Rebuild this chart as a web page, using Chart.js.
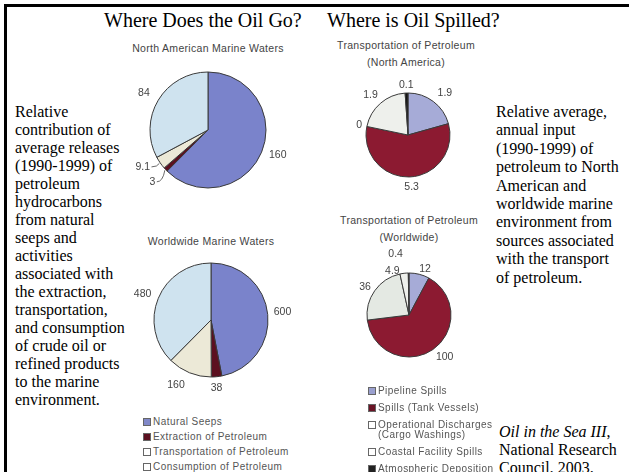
<!DOCTYPE html>
<html>
<head>
<meta charset="utf-8">
<script src="https://cdn.jsdelivr.net/npm/chart.js@4.4.1/dist/chart.umd.min.js"></script>
<style>
  html, body { margin: 0; padding: 0; background: #fff; }
  #page { position: relative; width: 629px; height: 472px; overflow: hidden; background: #fff; }
  #frame { position: absolute; left: 4px; top: 4px; right: -4px; bottom: -4px;
           border-top: 3px solid #000; border-left: 3px solid #000; }
  .head { position: absolute; font-family: "Liberation Serif", "Times New Roman", serif;
          font-size: 20px; line-height: 24px; color: #000; white-space: nowrap; }
  .body { position: absolute; font-family: "Liberation Serif", "Times New Roman", serif;
          font-size: 16px; line-height: 18px; color: #000; white-space: nowrap; }
  .cap { position: absolute; font-family: "Liberation Sans", Arial, sans-serif; font-size: 10.5px;
         line-height: 12px; color: #444; letter-spacing: 0.3px; white-space: nowrap;
         transform: translate(-50%, -50%); }
  .pie { position: absolute; }
  .legend { position: absolute; font-family: "Liberation Sans", Arial, sans-serif; font-size: 10px;
            color: #555; letter-spacing: 0.45px; }
  .legend .row { display: flex; align-items: flex-start; line-height: 10px; }
  .legend .sw { width: 6px; height: 6px; border: 1px solid #666; margin: 1px 2px 0 0; flex: none; }
</style>
</head>
<body>
<div id="page">
  <div id="frame"></div>

  <div class="head" style="left:104px;top:8px;">Where Does the Oil Go?</div>
  <div class="head" style="left:327px;top:8px;">Where is Oil Spilled?</div>

  <div class="cap" style="left:208px;top:48px;">North American Marine Waters</div>
  <div class="cap" style="left:211px;top:241px;">Worldwide Marine Waters</div>
  <div class="cap" style="left:406px;top:45px;">Transportation of Petroleum</div>
  <div class="cap" style="left:406px;top:62px;">(North America)</div>
  <div class="cap" style="left:409px;top:220px;">Transportation of Petroleum</div>
  <div class="cap" style="left:409px;top:237px;">(Worldwide)</div>

  <div class="body" id="leftNote" style="left:15px;top:103px;"></div>
  <div class="body" id="rightNote" style="left:496px;top:103px;line-height:18.4px;"></div>
  <div class="body" style="left:499px;top:423px;"><i>Oil in the Sea III</i>,<br>National Research<br>Council, 2003.</div>

  <canvas class="pie" id="naSources" width="200" height="170" style="left:108px;top:45px;"></canvas>
  <canvas class="pie" id="wwSources" width="200" height="170" style="left:111px;top:235px;"></canvas>
  <canvas class="pie" id="naSpills" width="200" height="170" style="left:308px;top:50px;"></canvas>
  <canvas class="pie" id="wwSpills" width="200" height="170" style="left:309px;top:230px;"></canvas>

  <div class="legend" id="sourceLegend" style="left:143px;top:417px;"></div>
  <div class="legend" id="spillLegend" style="left:368px;top:386px;"></div>
</div>

<script>
// Average annual petroleum input, 1990-1999 (thousand tonnes)
const sourceCategories = ['Natural Seeps', 'Extraction of Petroleum', 'Transportation of Petroleum', 'Consumption of Petroleum'];
const northAmericaReleases = [160, 3, 9.1, 84];
const worldwideReleases = [600, 38, 160, 480];

const spillCategories = ['Pipeline Spills', 'Spills (Tank Vessels)', ['Operational Discharges', '(Cargo Washings)'], 'Coastal Facility Spills', 'Atmospheric Deposition'];
const northAmericaSpills = [1.9, 5.3, 0, 1.9, 0.1];
const worldwideSpills = [12, 100, 36, 4.9, 0.4];

const leftNoteLines = ['Relative', 'contribution of', 'average releases', '(1990-1999) of', 'petroleum',
  'hydrocarbons', 'from natural', 'seeps and', 'activities', 'associated with', 'the extraction,',
  'transportation,', 'and consumption', 'of crude oil or', 'refined products', 'to the marine', 'environment.'];
const rightNoteLines = ['Relative average,', 'annual input', '(1990-1999) of', 'petroleum to North',
  'American and', 'worldwide marine', 'environment from', 'sources associated', 'with the transport', 'of petroleum.'];

// Styling
const sourceColors = ['#7a83cb', '#5c1020', '#ece9d7', '#cfe3ef'];
const sourceSwatches = ['#8088c8', '#5c1020', '#ffffff', '#ffffff'];
const spillColors = ['#a6abd7', '#8c1a31', '#e4e9e3', '#eef0ec', '#151515'];
const spillSwatches = ['#9aa0cf', '#6a1426', '#ffffff', '#ffffff', '#222222'];

document.getElementById('leftNote').innerHTML = leftNoteLines.join('<br>');
document.getElementById('rightNote').innerHTML = rightNoteLines.join('<br>');

function buildLegend(id, labels, swatches, rowGap) {
  const box = document.getElementById(id);
  labels.forEach((lab, i) => {
    const row = document.createElement('div');
    row.className = 'row';
    row.style.marginBottom = rowGap + 'px';
    const sw = document.createElement('span');
    sw.className = 'sw';
    sw.style.background = swatches[i];
    const tx = document.createElement('span');
    tx.innerHTML = Array.isArray(lab) ? lab.join('<br>') : lab;
    row.appendChild(sw);
    row.appendChild(tx);
    box.appendChild(row);
  });
}
buildLegend('sourceLegend', sourceCategories, sourceSwatches, 5);
buildLegend('spillLegend', spillCategories, spillSwatches, 7);

// Value labels placed just outside each slice, along its mid angle
const pieLabels = {
  id: 'pieLabels',
  afterDatasetsDraw(chart, args, opts) {
    const ctx = chart.ctx;
    const meta = chart.getDatasetMeta(0);
    const values = chart.data.datasets[0].data;
    ctx.save();
    ctx.font = opts.font;
    ctx.fillStyle = opts.color;
    ctx.strokeStyle = opts.color;
    ctx.lineWidth = 0.8;
    ctx.textAlign = 'center';
    ctx.textBaseline = 'middle';
    meta.data.forEach((arc, i) => {
      const p = arc.getProps(['x', 'y', 'startAngle', 'endAngle', 'outerRadius'], true);
      const place = (opts.place && opts.place[i]) || {};
      const mid = (p.startAngle + p.endAngle) / 2;
      const ang = mid + (place.turn || 0) * Math.PI / 180;
      const d = p.outerRadius + (place.gap !== undefined ? place.gap : opts.gap);
      const tx = p.x + Math.cos(ang) * d;
      const ty = p.y + Math.sin(ang) * d;
      const text = String(values[i]);
      ctx.fillText(text, tx, ty);
      if (place.leader) {
        const w = ctx.measureText(text).width;
        const ex = p.x + Math.cos(mid) * (p.outerRadius + 1);
        const ey = p.y + Math.sin(mid) * (p.outerRadius + 1);
        ctx.beginPath();
        ctx.moveTo(tx + w / 2 + 1.5, ty);
        ctx.quadraticCurveTo(ex - 2, ty, ex, ey);
        ctx.stroke();
      }
    });
    ctx.restore();
  }
};

function makePie(id, labels, values, colors, radius, place, gap) {
  return new Chart(document.getElementById(id), {
    type: 'pie',
    data: {
      labels: labels,
      datasets: [{
        data: values,
        backgroundColor: colors,
        borderColor: '#3a3a3a',
        borderWidth: 1,
        radius: radius
      }]
    },
    options: {
      responsive: false,
      animation: false,
      events: [],
      layout: { padding: 0 },
      plugins: {
        legend: { display: false },
        tooltip: { enabled: false },
        pieLabels: { font: '10.5px "Liberation Sans", Arial, sans-serif', color: '#444', gap: gap, place: place }
      }
    },
    plugins: [pieLabels]
  });
}

makePie('naSources', sourceCategories, northAmericaReleases, sourceColors, 58,
  [{ turn: -3, gap: 16 }, { turn: 0, gap: 18, leader: true }, { turn: 5, gap: 17, leader: true }, { turn: -1, gap: 16 }], 16);
makePie('wwSources', sourceCategories, worldwideReleases, sourceColors, 57,
  [{ turn: -1, gap: 15 }, { turn: 1, gap: 11 }, { turn: 6, gap: 17 }, { turn: -2, gap: 16 }], 15);
makePie('naSpills', spillCategories, northAmericaSpills, spillColors, 42,
  [{ turn: 4, gap: 14 }, { turn: -2, gap: 10 }, { turn: 0, gap: 8 }, { turn: -2, gap: 13 }, { turn: 0, gap: 8 }], 10);
makePie('wwSpills', spillCategories, worldwideSpills, spillColors, 42,
  [{ turn: 5, gap: 7 }, { turn: -6, gap: 13 }, { turn: -3, gap: 10 }, { turn: -14, gap: 5 }, { turn: -12, gap: 20 }], 10);
</script>
</body>
</html>
